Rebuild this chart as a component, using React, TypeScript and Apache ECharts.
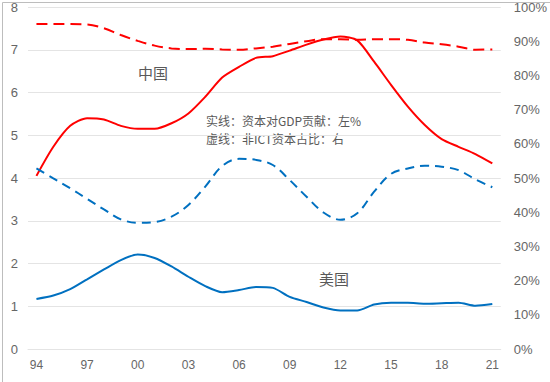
import React, { useEffect, useRef } from "react";
import * as echarts from "echarts";

const years = [
  "94", "95", "96", "97", "98", "99", "00", "01", "02", "03", "04", "05", "06", "07",
  "08", "09", "10", "11", "12", "13", "14", "15", "16", "17", "18", "19", "20", "21",
];

// 中国 资本对GDP贡献 (left, %)
const chinaContribution = [
  4.05, 4.73, 5.22, 5.4, 5.37, 5.22, 5.15, 5.15, 5.28, 5.51, 5.9, 6.35, 6.6, 6.81,
  6.85, 6.98, 7.12, 7.24, 7.31, 7.22, 6.72, 6.18, 5.67, 5.24, 4.91, 4.73, 4.56, 4.34,
];
// 中国 非ICT资本占比 (right, %)
const chinaNonIctShare = [
  95.0, 95.0, 95.0, 94.9, 93.8, 91.8, 90.1, 88.7, 87.9, 87.7, 87.8, 87.6, 87.5, 87.9,
  88.4, 89.2, 90.0, 90.6, 90.6, 90.4, 90.6, 90.6, 90.4, 89.6, 89.1, 88.4, 87.5, 87.6,
];
// 美国 资本对GDP贡献 (left, %)
const usContribution = [
  1.17, 1.25, 1.4, 1.63, 1.86, 2.08, 2.21, 2.13, 1.93, 1.69, 1.47, 1.33, 1.38, 1.45,
  1.43, 1.22, 1.1, 0.97, 0.9, 0.9, 1.04, 1.08, 1.08, 1.06, 1.07, 1.08, 1.01, 1.05,
];
// 美国 非ICT资本占比 (right, %)
const usNonIctShare = [
  52.8, 49.9, 47.0, 43.9, 40.8, 37.9, 36.9, 37.1, 38.7, 42.1, 47.5, 53.5, 55.6, 55.3,
  53.8, 49.4, 44.5, 39.9, 37.8, 39.7, 46.0, 51.2, 52.8, 53.6, 53.3, 52.3, 49.6, 47.3,
];

const labelColor = "#666666";
const gridColor = "#e4e4e4";
const cjkFont = "'Noto Sans CJK SC', sans-serif";

export default function App() {
  const ref = useRef<HTMLDivElement>(null);

  useEffect(() => {
    if (!ref.current) return;
    const chart = echarts.init(ref.current, undefined, { renderer: "svg" });
    chart.setOption({
      animation: false,
      backgroundColor: "#ffffff",
      grid: { left: 28, right: 43, top: 7, bottom: 33, containLabel: false },
      xAxis: {
        type: "category",
        data: years,
        boundaryGap: true,
        axisLine: { show: true, lineStyle: { color: gridColor } },
        axisTick: { show: false },
        axisLabel: {
          interval: 2,
          color: labelColor,
          fontSize: 12,
          fontFamily: "'Liberation Sans', sans-serif",
          margin: 10,
        },
      },
      yAxis: [
        {
          type: "value",
          min: 0,
          max: 8,
          interval: 1,
          position: "left",
          axisLine: { show: false },
          axisTick: { show: false },
          splitLine: { show: true, lineStyle: { color: gridColor, width: 1 } },
          axisLabel: {
            color: labelColor,
            fontSize: 13,
            fontFamily: "'Liberation Sans', sans-serif",
            margin: 10,
          },
        },
        {
          type: "value",
          min: 0,
          max: 100,
          interval: 10,
          position: "right",
          axisLine: { show: false },
          axisTick: { show: false },
          splitLine: { show: false },
          axisLabel: {
            formatter: "{value}%",
            color: labelColor,
            fontSize: 13,
            fontFamily: "'Liberation Sans', sans-serif",
            margin: 13,
          },
        },
      ],
      series: [
        {
          name: "中国 资本对GDP贡献",
          type: "line",
          yAxisIndex: 0,
          data: chinaContribution,
          smooth: 0.25,
          showSymbol: false,
          lineStyle: { color: "#ff0000", width: 2 },
        },
        {
          name: "中国 非ICT资本占比",
          type: "line",
          yAxisIndex: 1,
          data: chinaNonIctShare,
          smooth: 0.35,
          showSymbol: false,
          lineStyle: { color: "#ff0000", width: 2, type: [11, 6] },
        },
        {
          name: "美国 资本对GDP贡献",
          type: "line",
          yAxisIndex: 0,
          data: usContribution,
          smooth: 0.25,
          showSymbol: false,
          lineStyle: { color: "#0070c0", width: 2 },
        },
        {
          name: "美国 非ICT资本占比",
          type: "line",
          yAxisIndex: 1,
          data: usNonIctShare,
          smooth: 0.35,
          showSymbol: false,
          lineStyle: { color: "#0070c0", width: 2, type: [9, 6] },
        },
      ],
      graphic: [
        {
          type: "rect",
          left: 0,
          top: 0,
          shape: { width: 549, height: 381 },
          style: { fill: "none", stroke: "#bdbdbd", lineWidth: 1 },
          silent: true,
          z: 100,
        },
        {
          type: "text",
          left: 138,
          top: 65,
          style: { text: "中国", fill: "#595959", font: `15px ${cjkFont}` },
        },
        {
          type: "text",
          left: 319,
          top: 271,
          style: { text: "美国", fill: "#595959", font: `15px ${cjkFont}` },
        },
        {
          type: "text",
          left: 206,
          top: 114,
          style: {
            text: "实线：资本对GDP贡献：左%",
            fill: "#595959",
            font: `12px ${cjkFont}`,
          },
        },
        {
          type: "text",
          left: 206,
          top: 132,
          style: {
            text: "虚线：非ICT资本占比：右",
            fill: "#595959",
            font: `12px ${cjkFont}`,
          },
        },
      ],
    });
    return () => chart.dispose();
  }, []);

  return (
    <div
      ref={ref}
      style={{ position: "fixed", left: 0, top: 0, width: 550, height: 382, background: "#fff" }}
    />
  );
}
